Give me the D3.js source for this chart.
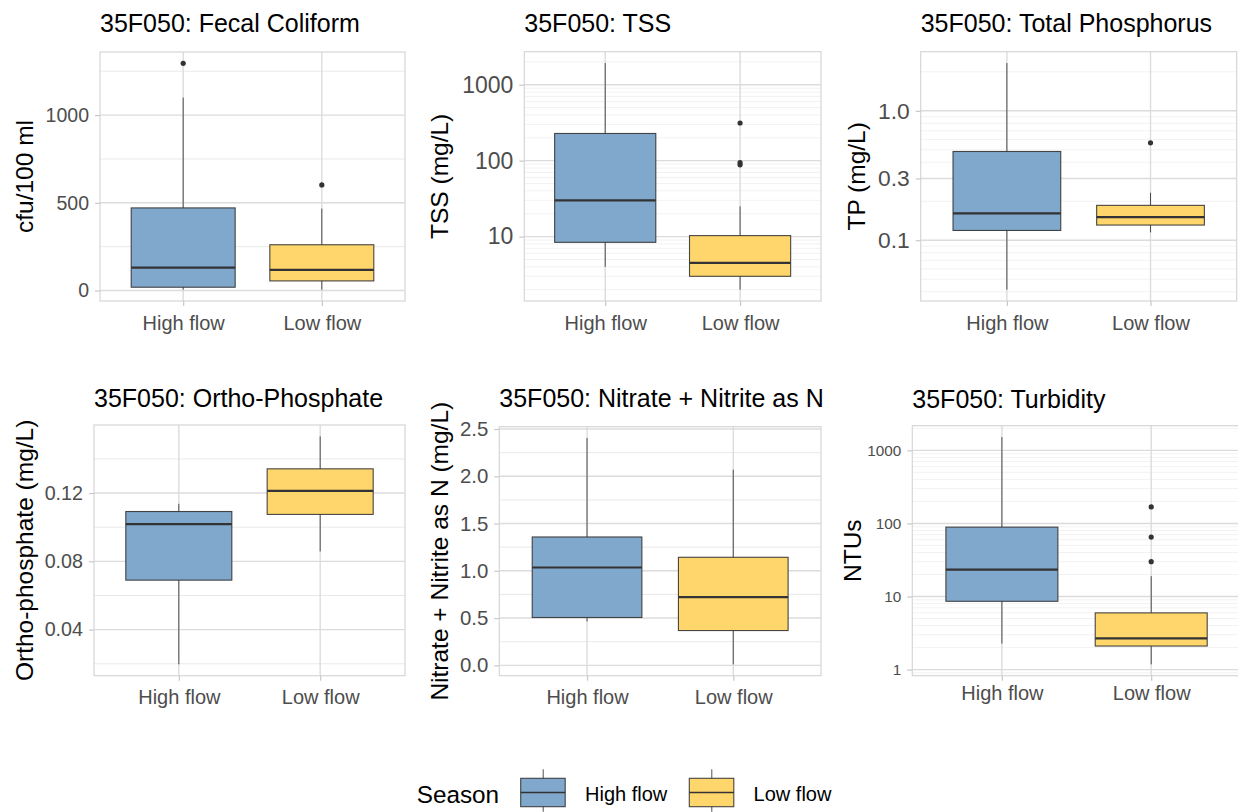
<!DOCTYPE html>
<html>
<head>
<meta charset="utf-8">
<script src="https://cdn.jsdelivr.net/npm/d3@7"></script>
<style>
  body { margin: 0; background: #fff; font-family: Arial, "Liberation Sans", sans-serif; }
</style>
</head>
<body>
<div id="chart"></div>
<script>
var seasons = ["High flow", "Low flow"];
var seasonColors = ["#80A7CC", "#FFD66C"];

// each box: [lower whisker, Q1, median, Q3, upper whisker], one per season
var fecalBoxes = [[5, 19, 131, 471, 1100], [5, 55, 118, 261, 467]];
var fecalOutliers = [[1295], [602]];
var fecalTicks = [0, 500, 1000];

var tssBoxes = [[4.0, 8.4, 30, 228, 1930], [2.0, 3.0, 4.5, 10.3, 25]];
var tssOutliers = [[], [313, 94, 88]];
var tssTicks = [10, 100, 1000];

var tpBoxes = [[0.0415, 0.119, 0.161, 0.485, 2.34], [0.115, 0.131, 0.151, 0.186, 0.233]];
var tpOutliers = [[], [0.566]];
var tpTicks = [0.1, 0.3, 1.0];

var orthoBoxes = [[0.0197, 0.069, 0.1018, 0.1092, 0.1137], [0.0858, 0.1075, 0.1213, 0.1342, 0.1532]];
var orthoOutliers = [[], []];
var orthoTicks = [0.04, 0.08, 0.12];

var nitrateBoxes = [[0.464, 0.506, 1.035, 1.358, 2.405], [0.01, 0.368, 0.722, 1.143, 2.07]];
var nitrateOutliers = [[], []];
var nitrateTicks = [0.0, 0.5, 1.0, 1.5, 2.0, 2.5];

var turbBoxes = [[2.27, 8.6, 23.4, 89, 1520], [1.18, 2.1, 2.68, 5.97, 19]];
var turbOutliers = [[], [168, 65, 30]];
var turbTicks = [1, 10, 100, 1000];

var panels = [
  {title: "35F050: Fecal Coliform", ylab: "cfu/100 ml", boxes: fecalBoxes, outliers: fecalOutliers, ticks: fecalTicks, log: false, fmt: d3.format("d")},
  {title: "35F050: TSS", ylab: "TSS (mg/L)", boxes: tssBoxes, outliers: tssOutliers, ticks: tssTicks, log: true, fmt: d3.format("d")},
  {title: "35F050: Total Phosphorus", ylab: "TP (mg/L)", boxes: tpBoxes, outliers: tpOutliers, ticks: tpTicks, log: true, fmt: d3.format(".1f")},
  {title: "35F050: Ortho-Phosphate", ylab: "Ortho-phosphate (mg/L)", boxes: orthoBoxes, outliers: orthoOutliers, ticks: orthoTicks, log: false, fmt: d3.format(".2f")},
  {title: "35F050: Nitrate + Nitrite as N", ylab: "Nitrate + Nitrite as N (mg/L)", boxes: nitrateBoxes, outliers: nitrateOutliers, ticks: nitrateTicks, log: false, fmt: d3.format(".1f")},
  {title: "35F050: Turbidity", ylab: "NTUs", boxes: turbBoxes, outliers: turbOutliers, ticks: turbTicks, log: true, fmt: d3.format("d")}
];

// plot area geometry for each panel (left, top, right, bottom), label positions and font sizes
var layout = [
  {l: 100,   t: 52,    r: 405,    b: 301,   ylabX: 33,    titleY: 32,  tickFont: 19.5, xPad: 10},
  {l: 524.3, t: 51.7,  r: 821,    b: 301,   ylabX: 448,   titleY: 32,  tickFont: 23,   xPad: 10},
  {l: 920.7, t: 51.7,  r: 1236.7, b: 301,   ylabX: 865,   titleY: 32,  tickFont: 22.8, xPad: 10},
  {l: 94,    t: 425,   r: 405,    b: 675.7, ylabX: 32.5,  titleY: 407, tickFont: 19.7, xPad: 9},
  {l: 499.3, t: 426.7, r: 821,    b: 675.7, ylabX: 448,   titleY: 407, tickFont: 20.4, xPad: 9},
  {l: 912.3, t: 425.7, r: 1240.8, b: 675.7, ylabX: 860.7, titleY: 408, tickFont: 15.3, xPad: 5}
];

var W = 1238, H = 812;
var svg = d3.select("#chart").append("svg")
    .attr("width", W)
    .attr("height", H);

var major = "#dcdcdc", ink = "#333333";

function minorLog(domain) {
    var out = [];
    var lo = Math.floor(Math.log10(domain[0])), hi = Math.ceil(Math.log10(domain[1]));
    for (var k = lo; k <= hi; k++) {
        for (var m = 1; m <= 9; m++) {
            var v = m * Math.pow(10, k);
            if (v >= domain[0] && v <= domain[1]) out.push(v);
        }
    }
    return out;
}

panels.forEach(function(p, i) {
    var L = layout[i];
    var w = L.r - L.l, h = L.b - L.t;

    // data range with 5% expansion like ggplot
    var vals = [];
    p.boxes.forEach(function(b) { vals = vals.concat(b); });
    p.outliers.forEach(function(o) { vals = vals.concat(o); });
    var y;
    if (p.log) {
        var lmin = Math.log10(d3.min(vals)), lmax = Math.log10(d3.max(vals));
        var e = (lmax - lmin) * 0.05;
        y = d3.scaleLog().domain([Math.pow(10, lmin - e), Math.pow(10, lmax + e)]).range([h, 0]);
    } else {
        var mn = d3.min(vals), mx = d3.max(vals), ex = (mx - mn) * 0.05;
        y = d3.scaleLinear().domain([mn - ex, mx + ex]).range([h, 0]);
    }
    var x = d3.scalePoint().domain(seasons).range([0, w]).padding(0.6);
    var bw = x.step() * 0.75;

    var g = svg.append("g").attr("transform", "translate(" + L.l + "," + L.t + ")");

    // minor grid
    var minors;
    if (p.log) {
        minors = minorLog(y.domain()).filter(function(v) {
            return p.ticks.every(function(t) { return Math.abs(Math.log10(t) - Math.log10(v)) > 1e-6; });
        });
    } else {
        var st = p.ticks[1] - p.ticks[0];
        minors = d3.range(p.ticks[0] - st / 2, y.domain()[1], st).filter(function(v) {
            return v >= y.domain()[0];
        });
    }
    g.selectAll(".minor").data(minors).enter().append("line")
        .attr("x1", 0).attr("x2", w)
        .attr("y1", function(d) { return y(d); })
        .attr("y2", function(d) { return y(d); })
        .attr("stroke", p.log ? "#efefef" : "#e6e6e6")
        .attr("stroke-width", p.log ? 0.8 : 0.9);

    // major grid
    g.selectAll(".major").data(p.ticks).enter().append("line")
        .attr("x1", 0).attr("x2", w)
        .attr("y1", function(d) { return y(d); })
        .attr("y2", function(d) { return y(d); })
        .attr("stroke", major).attr("stroke-width", 1.4);
    g.selectAll(".vmajor").data(seasons).enter().append("line")
        .attr("x1", function(d) { return x(d); })
        .attr("x2", function(d) { return x(d); })
        .attr("y1", 0).attr("y2", h)
        .attr("stroke", major).attr("stroke-width", 1.4);

    // boxes
    var bx = g.selectAll(".box").data(p.boxes).enter().append("g");
    bx.append("line")
        .attr("x1", function(d, j) { return x(seasons[j]); })
        .attr("x2", function(d, j) { return x(seasons[j]); })
        .attr("y1", function(d) { return y(d[0]); })
        .attr("y2", function(d) { return y(d[4]); })
        .attr("stroke", ink).attr("stroke-opacity", 0.85).attr("stroke-width", 1);
    bx.append("rect")
        .attr("x", function(d, j) { return x(seasons[j]) - bw / 2; })
        .attr("width", bw)
        .attr("y", function(d) { return y(d[3]); })
        .attr("height", function(d) { return y(d[1]) - y(d[3]); })
        .attr("fill", function(d, j) { return seasonColors[j]; })
        .attr("stroke", ink).attr("stroke-opacity", 0.9).attr("stroke-width", 1.1);
    bx.append("line")
        .attr("x1", function(d, j) { return x(seasons[j]) - bw / 2; })
        .attr("x2", function(d, j) { return x(seasons[j]) + bw / 2; })
        .attr("y1", function(d) { return y(d[2]); })
        .attr("y2", function(d) { return y(d[2]); })
        .attr("stroke", ink).attr("stroke-width", 2.2);

    // outliers
    p.outliers.forEach(function(o, j) {
        g.selectAll(".out" + j).data(o).enter().append("circle")
            .attr("cx", x(seasons[j]))
            .attr("cy", function(d) { return y(d); })
            .attr("r", 2.6)
            .attr("fill", ink);
    });

    // panel border
    g.append("rect")
        .attr("width", w).attr("height", h)
        .attr("fill", "none").attr("stroke", "#d6d6d6").attr("stroke-width", 1.2);

    // axes
    var ya = g.append("g")
        .call(d3.axisLeft(y).tickValues(p.ticks).tickFormat(p.fmt).tickSize(5).tickPadding(6));
    ya.select(".domain").remove();
    ya.selectAll("line").attr("stroke", "#c8c8c8").attr("stroke-width", 1.2);
    ya.selectAll("text").attr("fill", "#4d4d4d")
        .style("font-size", L.tickFont + "px").style("font-family", "Arial, 'Liberation Sans', sans-serif");

    var xa = g.append("g")
        .attr("transform", "translate(0," + h + ")")
        .call(d3.axisBottom(x).tickSize(5).tickPadding(L.xPad));
    xa.select(".domain").remove();
    xa.selectAll("line").attr("stroke", "#c8c8c8").attr("stroke-width", 1.2);
    xa.selectAll("text").attr("fill", "#4d4d4d")
        .style("font-size", "20px").style("font-family", "Arial, 'Liberation Sans', sans-serif");

    // titles
    svg.append("text")
        .attr("x", L.l).attr("y", L.titleY)
        .style("font-size", "25px").attr("fill", "#000")
        .text(p.title);
    svg.append("text")
        .attr("transform", "translate(" + L.ylabX + "," + (L.t + h / 2) + ") rotate(-90)")
        .attr("text-anchor", "middle")
        .style("font-size", "24.5px").attr("fill", "#000")
        .text(p.ylab);
});

// legend
var color = d3.scaleOrdinal().domain(seasons).range(seasonColors);
var legend = svg.append("g");
legend.append("text")
    .attr("x", 416.7).attr("y", 803)
    .style("font-size", "24.3px").attr("fill", "#000")
    .text("Season");
var keyX = [520.7, 689.3];
var keys = legend.selectAll(".key").data(seasons).enter().append("g")
    .attr("transform", function(d, j) { return "translate(" + keyX[j] + ",778.3)"; });
keys.append("line")
    .attr("x1", 22.5).attr("x2", 22.5).attr("y1", -9).attr("y2", 33.5)
    .attr("stroke", ink).attr("stroke-opacity", 0.85).attr("stroke-width", 1);
keys.append("rect")
    .attr("width", 44.5).attr("height", 28.4)
    .attr("fill", function(d) { return color(d); })
    .attr("stroke", ink).attr("stroke-opacity", 0.9).attr("stroke-width", 1.1);
keys.append("line")
    .attr("x1", 0).attr("x2", 44.5).attr("y1", 14.2).attr("y2", 14.2)
    .attr("stroke", ink).attr("stroke-width", 1.6);
keys.append("text")
    .attr("x", 64.3).attr("y", 23)
    .style("font-size", "20px").attr("fill", "#000")
    .text(function(d) { return d; });
</script>
</body>
</html>
